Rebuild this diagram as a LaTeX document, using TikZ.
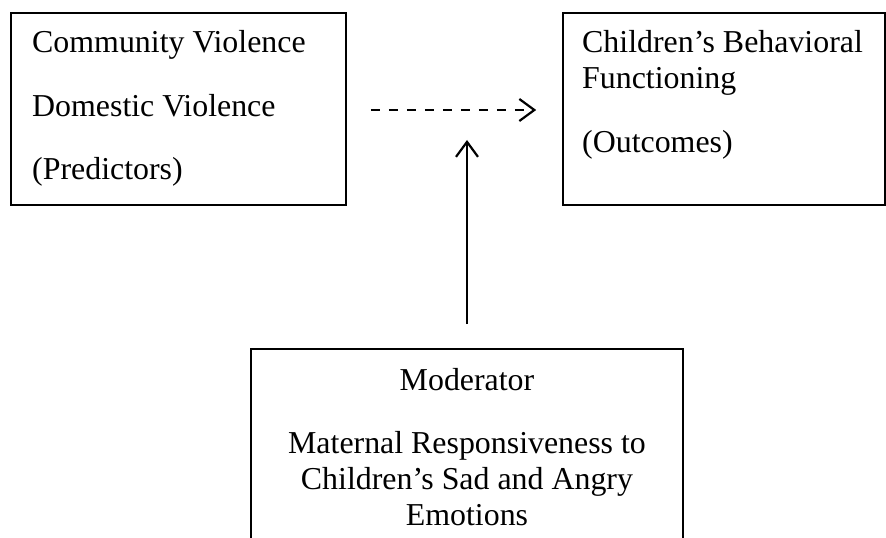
\documentclass[tikz,border=0pt]{standalone}
\usepackage{fontspec}
\setmainfont{Liberation Serif}
\usetikzlibrary{arrows.meta}
\tikzset{
  boxnode/.style={draw=black, line width=1.6bp, inner sep=0pt, fill=none},
  txt/.style={inner sep=0pt, anchor=base west, font=\fontsize{32}{36}\selectfont},
  ctxt/.style={inner sep=0pt, anchor=base, font=\fontsize{32}{36}\selectfont},
  barb/.tip={Straight Barb[length=15bp, width=22bp, line width=2.2bp]},
  conn/.style={line width=2bp, -barb},
  dconn/.style={conn, line width=2.3bp, dash pattern=on 9bp off 9bp}
}
\begin{document}
\begin{tikzpicture}[x=1bp, y=-1bp]
\useasboundingbox (0,0) rectangle (886,538);
\clip (0,0) rectangle (886,538);
\fill[white] (0,0) rectangle (886,538);
% boxes
\node[boxnode, minimum width=335bp, minimum height=192bp] (pred) at (178.5,109) {};
\node[boxnode, minimum width=322bp, minimum height=192bp] (out) at (724,109) {};
\node[boxnode, minimum width=432bp, minimum height=260bp] (mod) at (467,479) {};
% texts
\node[txt] (p1) at (32,53) {Community Violence};
\node[txt] (p2) at (32,117) {Domestic Violence};
\node[txt] (p3) at (32,180) {(Predictors)};
\node[txt] (o1) at (582,53) {Children’s Behavioral};
\node[txt] (o2) at (582,89) {Functioning};
\node[txt] (o3) at (582,153) {(Outcomes)};
\node[ctxt] (m1) at (467,390) {Moderator};
\node[ctxt] (m2) at (467,453) {Maternal Responsiveness to};
\node[ctxt] (m3) at (467,489) {Children’s Sad and Angry};
\node[ctxt] (m4) at (467,525) {Emotions};
% connectors
\coordinate (ds) at ([xshift=24bp]pred.east |- 0,110);
\coordinate (de) at ([xshift=-26bp]out.west |- 0,110);
\draw[dconn] (ds) -- (de);
\coordinate (vs) at ([yshift=24bp]mod.north);
\coordinate (ve) at (mod.north |- 0,140);
\draw[conn] (vs) -- (ve);
\end{tikzpicture}
\end{document}
